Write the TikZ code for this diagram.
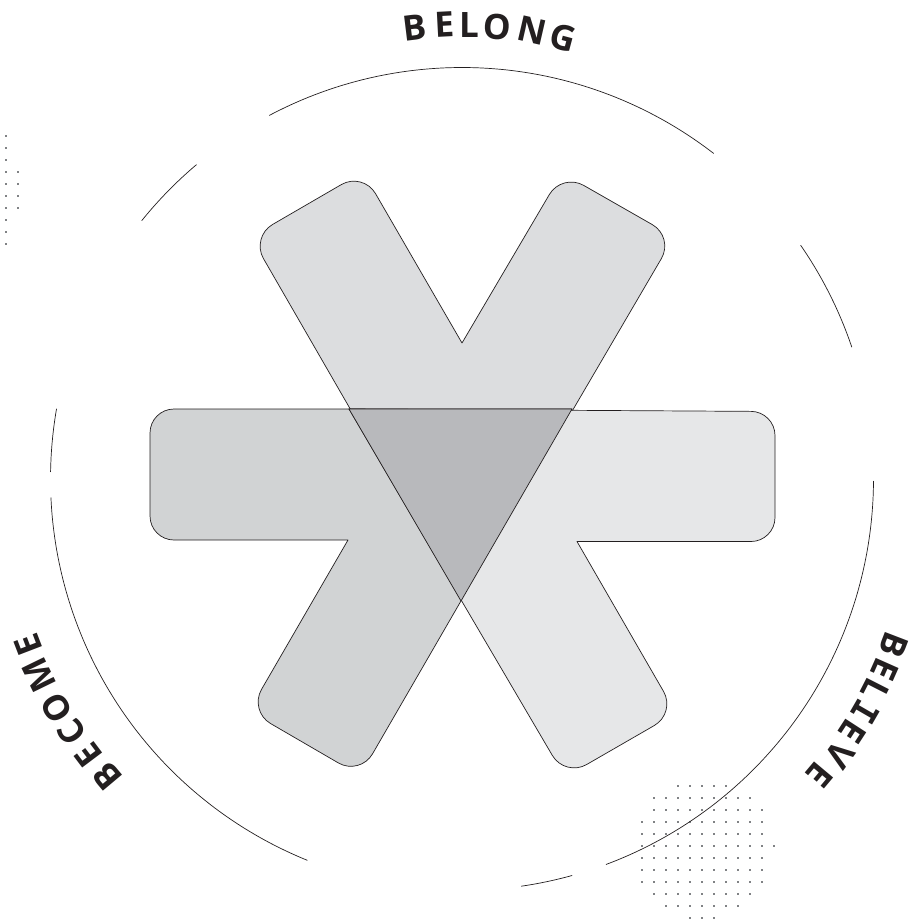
\documentclass[tikz,border=0pt]{standalone}
\usepackage{fontspec}
\setmainfont{Open Sans}
\newfontfamily\seriffedI{DejaVu Sans Mono}
\definecolor{ink}{HTML}{231F20}
\definecolor{topfill}{HTML}{DCDDDF}
\definecolor{leftfill}{HTML}{D1D3D4}
\definecolor{rightfill}{HTML}{E6E7E8}
\definecolor{midfill}{HTML}{B8B9BC}
\definecolor{dotc}{HTML}{808285}
\tikzset{
  shapeline/.style={draw=ink,line width=0.7pt,line join=round},
  ringline/.style={draw=ink,line width=0.7pt,line cap=round},
  letterbox/.style={inner sep=0pt,outer sep=0pt,anchor=center,text=ink,font=\fontsize{35}{35}\selectfont\bfseries},
}
\newcommand{\ringarc}[2]{\draw[ringline] plot[domain=#1:#2,samples=80,smooth] ({462+411.5*sin(\x)},{479-411.5*cos(\x)});}
\newcommand{\lett}[5]{\node[letterbox,rotate=-#4] (#5) at (#2,#3) {#1};}
\newcommand{\dotrow}[3]{\foreach \i in {#1,#2,...,#3}{\fill[dotc] ({\i-1},{\yy-1}) rectangle ({\i+1},{\yy+1});}}
\begin{document}
\begin{tikzpicture}[x=1pt,y=-1pt]
\useasboundingbox (0,0) rectangle (910,920);
% dots lower right
\foreach \yy/\xa/\xb in {786/678/726,798/654/750,810/654/762,822/642/762,834/642/762,846/642/774,858/642/762,870/642/762,882/642/762,894/654/750,906/666/738,918/690/714}{
  \pgfmathsetmacro{\xn}{\xa+12}
  \dotrow{\xa}{\xn}{\xb}
}
% dots upper left
\foreach \yy in {136,148,...,244}{\fill[dotc] (5,\yy-1) rectangle (7,\yy+1);}
\foreach \yy in {172,184,196,208}{\fill[dotc] (17,\yy-1) rectangle (19,\yy+1);}
% ring
\ringarc{-27.9}{37.7}
\ringarc{55.4}{71.3}
\ringarc{90.3}{159.5}
\ringarc{164.5}{171.7}
\ringarc{202.1}{267.4}
\ringarc{271}{279.8}
\ringarc{308.9}{319.8}
% chevrons
\draw[shapeline,fill=topfill] (461,601) [rounded corners=25pt] -- (251,237) -- (363,172) [sharp corners] -- (462,343) [rounded corners=25pt] -- (562,173) -- (674,237) [sharp corners] -- cycle;
\draw[shapeline,fill=leftfill] (572,409) [rounded corners=24pt] -- (150,409) -- (150,540) [sharp corners] -- (348,540) [rounded corners=25pt] -- (249,711) -- (360,775.5) [sharp corners] -- cycle;
\draw[shapeline,fill=rightfill] (349,409) [rounded corners=24pt] -- (775,411.5) -- (775,541.5) [sharp corners] -- (577,541.5) [rounded corners=25pt] -- (676,713) -- (565,777) [sharp corners] -- cycle;
\draw[shapeline,fill=midfill] (349,409) -- (572,409) -- (461,601) -- cycle;
% BELONG
\lett{B}{415}{28}{-7}{a1}
\lett{E}{445}{25}{-3}{a2}
\lett{L}{469}{25}{0}{a3}
\lett{O}{497}{27}{4}{a4}
\lett{N}{532}{31}{13}{a5}
\lett{G}{563}{38}{15}{a6}
% BELIEVE
\lett{B}{894}{645}{111}{b1}
\lett{E}{885}{670}{114}{b2}
\lett{L}{875}{690}{117}{b3}
\lett{\seriffedI I}{865}{712}{120}{b4}
\lett{E}{853}{732}{123}{b5}
\lett{V}{840}{755}{126}{b6}
\lett{E}{820}{775}{130}{b7}
% BECOME
\lett{B}{107}{777}{230}{c1}
\lett{E}{89}{755}{233}{c2}
\lett{C}{72}{732}{236}{c3}
\lett{O}{57}{708}{239}{c4}
\lett{M}{39}{675}{244}{c5}
\lett{E}{28}{645}{249}{c6}
\end{tikzpicture}
\end{document}
